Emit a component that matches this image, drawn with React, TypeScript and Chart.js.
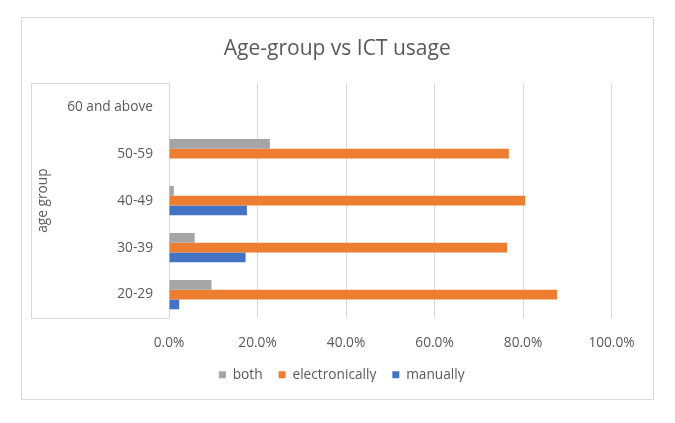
import React, { useEffect, useRef } from "react";
import { Chart, registerables } from "chart.js";

Chart.register(...registerables);

const categories = ["20-29", "30-39", "40-49", "50-59", "60 and above"];
const bothValues = [9.6, 5.8, 1.1, 22.8, 0];
const electronicallyValues = [87.7, 76.4, 80.5, 76.8, 0];
const manuallyValues = [2.3, 17.3, 17.6, 0, 0];
const seriesNames = ["both", "electronically", "manually"];
const seriesColors = ["#A5A5A5", "#ED7D31", "#4472C4"];
const xMin = 0;
const xMax = 100;
const xStep = 20;
const chartTitle = "Age-group vs ICT usage";
const yAxisTitle = "age group";

const FONT = "'Open Sans', sans-serif";
const TEXT = "#595959";
const GRID = "#d9d9d9";

const axisBoxPlugin = {
  id: "axisBox",
  beforeDatasetsDraw(chart: any) {
    const { ctx, chartArea, scales } = chart;
    const y = scales.y;
    ctx.save();
    ctx.strokeStyle = GRID;
    ctx.lineWidth = 1;
    ctx.strokeRect(
      Math.round(y.left) + 0.5,
      Math.round(chartArea.top) + 0.5,
      Math.round(chartArea.left - y.left),
      Math.round(chartArea.bottom - chartArea.top)
    );
    ctx.restore();
  },
};

const placeBoxesPlugin = {
  id: "placeBoxes",
  afterLayout(chart: any) {
    const lg = chart.legend;
    if (lg) {
      const h = lg.bottom - lg.top;
      lg.top = 334;
      lg.bottom = lg.top + h;
      lg.left += 20.5;
      lg.right += 20.5;
    }
    const t = chart.titleBlock;
    if (t) {
      t.left += 16;
      t.right += 16;
    }
  },
};

export default function App() {
  const canvasRef = useRef<HTMLCanvasElement | null>(null);

  useEffect(() => {
    if (!canvasRef.current) return;
    const seriesData = [bothValues, electronicallyValues, manuallyValues];
    const chart = new Chart(canvasRef.current, {
      type: "bar",
      data: {
        labels: categories,
        datasets: seriesNames.map((name, i) => ({
          label: name,
          data: seriesData[i],
          backgroundColor: seriesColors[i],
          borderWidth: 0,
          categoryPercentage: 0.62,
          barPercentage: 1.0,
        })),
      },
      options: {
        indexAxis: "y",
        responsive: false,
        animation: false,
        layout: { padding: { left: 9, right: 41.5, top: 2, bottom: 0.5 } },
        plugins: {
          title: {
            display: true,
            text: chartTitle,
            color: TEXT,
            font: { family: FONT, size: 21, weight: "normal" },
            padding: { top: 16, bottom: 22 },
          },
          legend: {
            position: "bottom",
            maxHeight: 30,
            labels: {
              color: TEXT,
              font: { family: FONT, size: 13.7 },
              boxWidth: 7,
              boxHeight: 7,
              padding: 16,
            },
          },
          tooltip: { enabled: false },
        },
        scales: {
          x: {
            min: xMin,
            max: xMax,
            ticks: {
              stepSize: xStep,
              color: TEXT,
              font: { family: FONT, size: 13.7 },
              padding: 17,
              callback: (v: any) => Number(v).toFixed(1) + "%",
            },
            grid: { color: GRID, lineWidth: 1, drawTicks: false },
            border: { display: false },
          },
          y: {
            reverse: true,
            afterFit: (scale: any) => {
              scale.width = 138;
            },
            ticks: {
              color: TEXT,
              font: { family: FONT, size: 13.7 },
              padding: 16,
            },
            grid: { display: false, drawTicks: false },
            border: { display: false },
            title: {
              display: true,
              text: yAxisTitle,
              color: TEXT,
              font: { family: FONT, size: 13.7 },
              padding: { top: 4, bottom: 0 },
            },
          },
        },
      },
      plugins: [axisBoxPlugin, placeBoxesPlugin],
    });
    return () => chart.destroy();
  }, []);

  return (
    <div style={{ position: "absolute", left: 0, top: 0, width: 675, height: 423, background: "#fff" }}>
      <div
        style={{
          position: "absolute",
          left: 21,
          top: 17,
          width: 633,
          height: 383,
          border: "1px solid #d9d9d9",
          boxSizing: "border-box",
        }}
      >
        <canvas ref={canvasRef} width={631} height={381} style={{ display: "block", width: 631, height: 381 }} />
      </div>
    </div>
  );
}
